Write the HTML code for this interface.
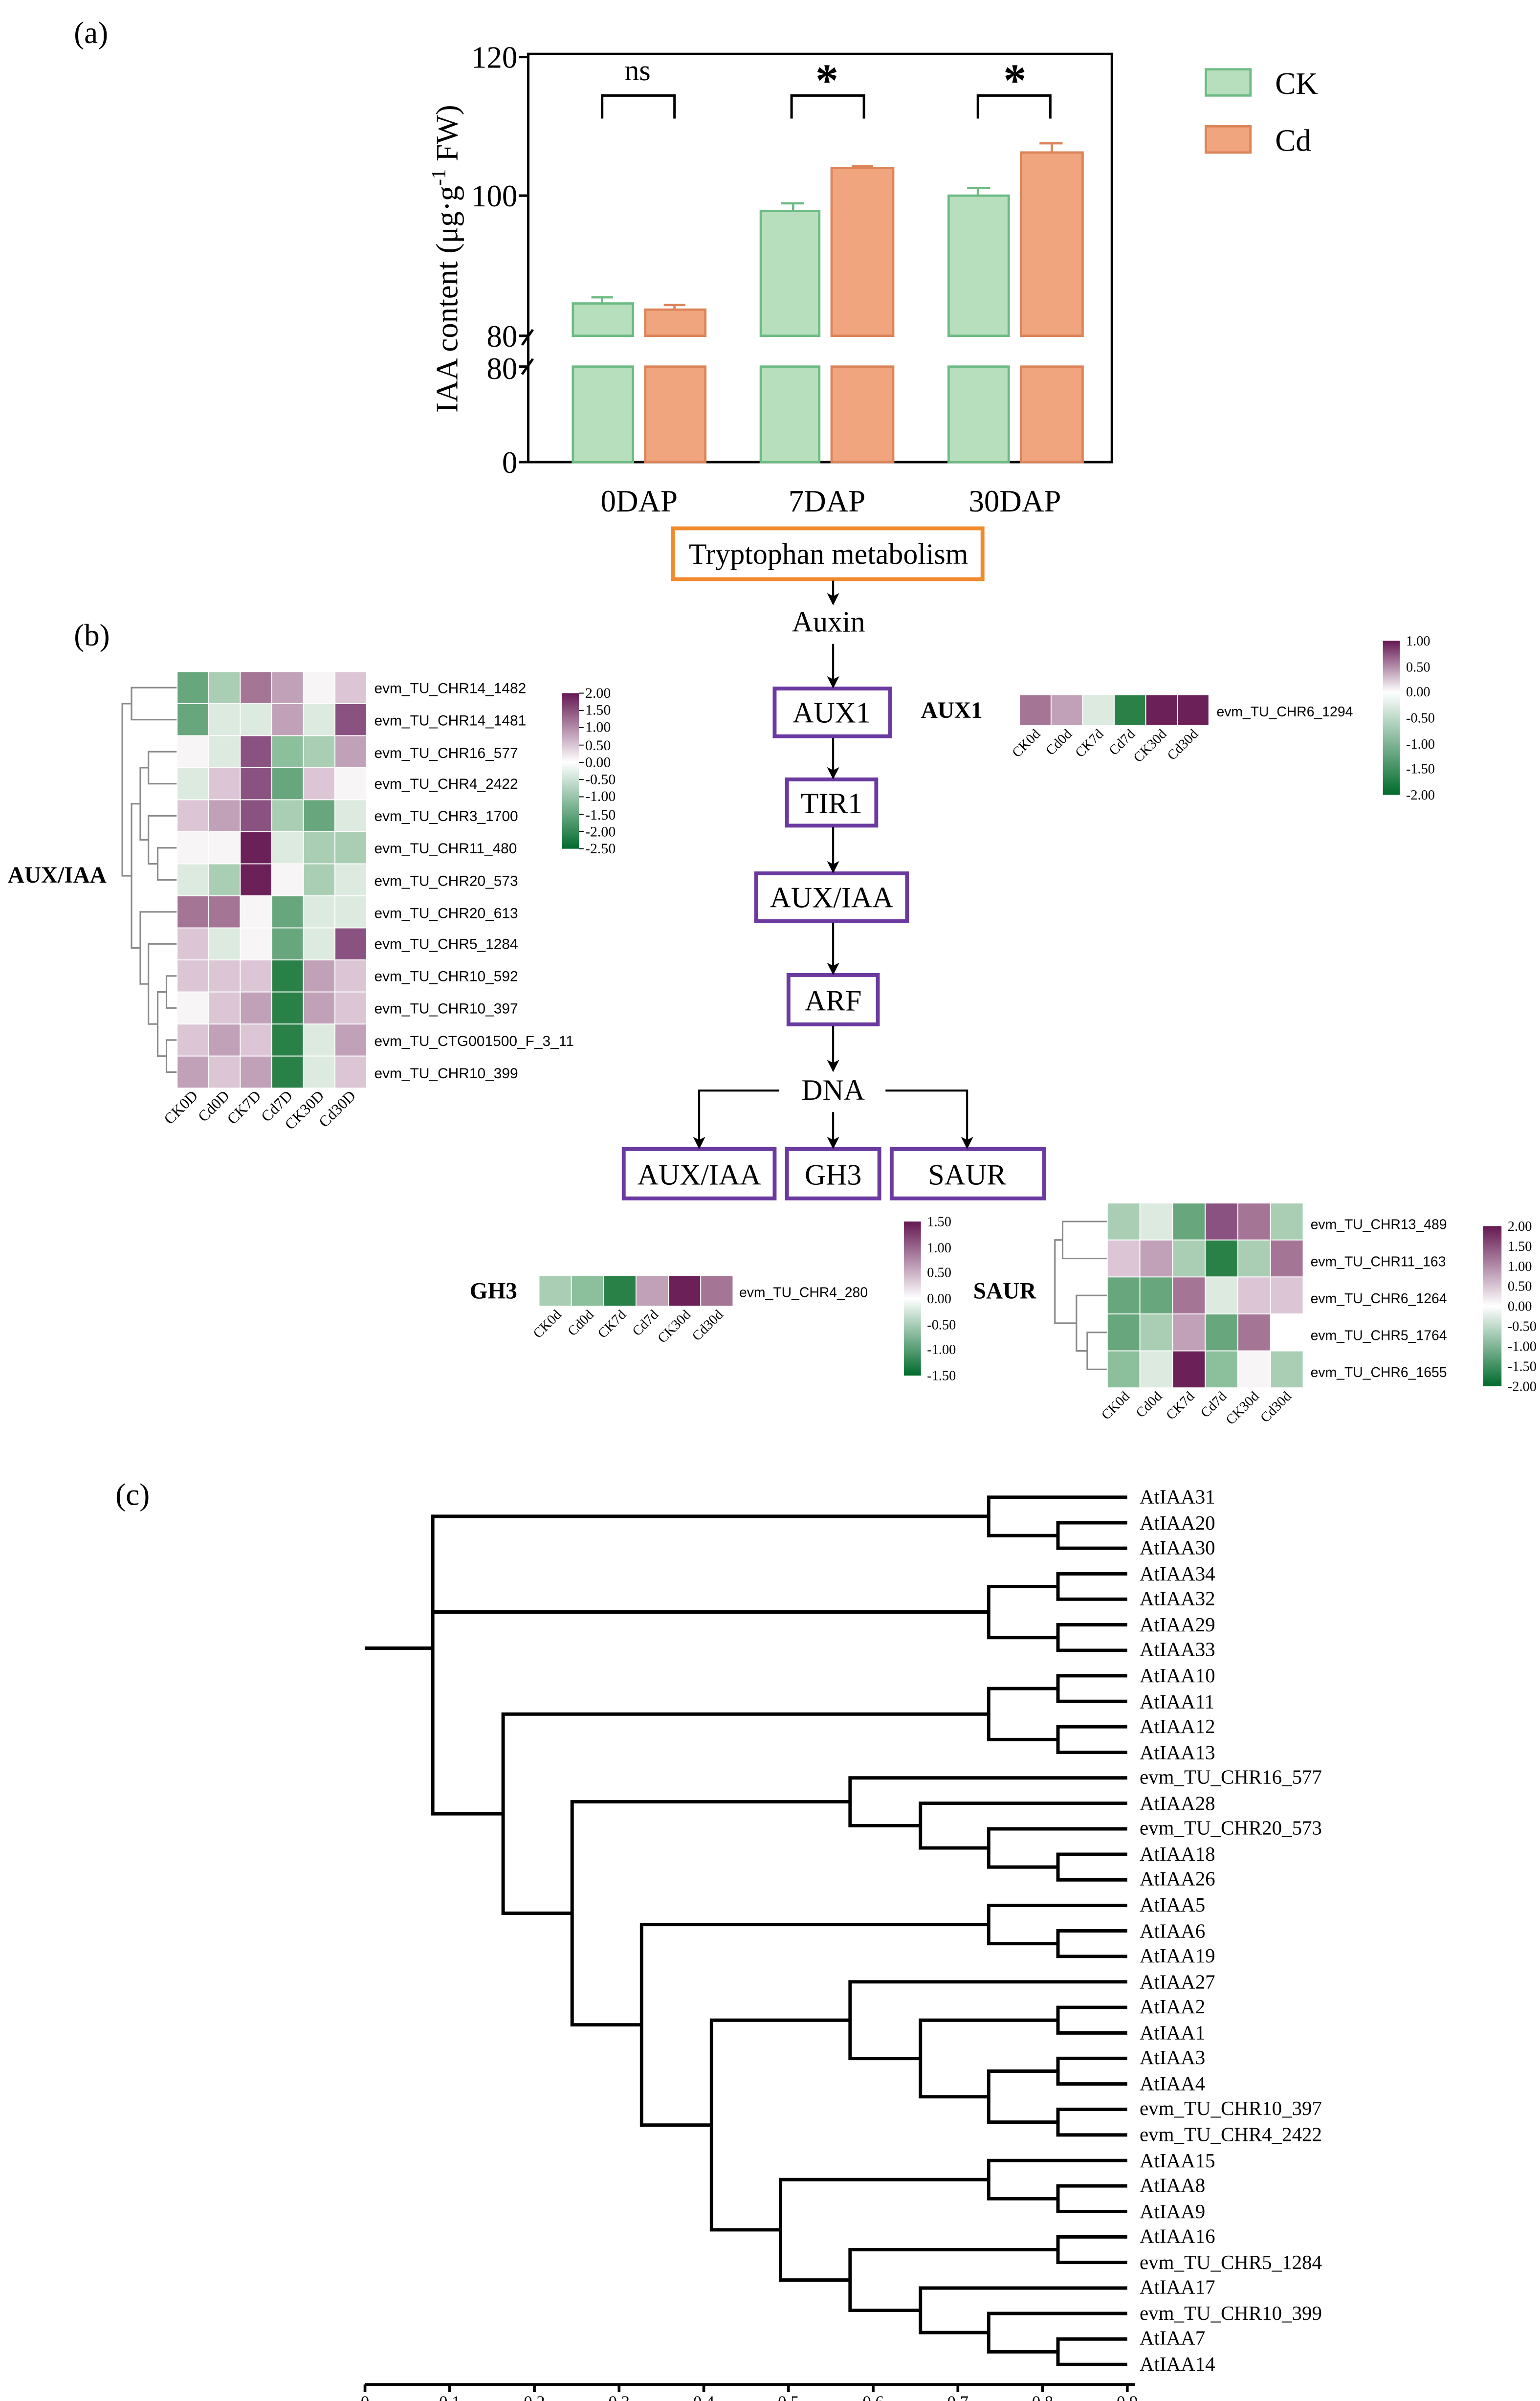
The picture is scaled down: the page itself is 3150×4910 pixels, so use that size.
<!DOCTYPE html>
<html><head><meta charset="utf-8"><style>
html,body{margin:0;padding:0;background:#fff}
svg{display:block}
.s{font-family:"Liberation Serif",serif}
.a{font-family:"Liberation Sans",sans-serif}
.W{fill:#f7f5f6}.G05{fill:#dceadf}.G1{fill:#a9ceb4}.G15{fill:#8cbf9c}.G2{fill:#68a77d}.G3{fill:#2a8148}
.P05{fill:#dcc6d6}.P1{fill:#c1a1b8}.P15{fill:#a57596}.P2{fill:#8a5280}.P3{fill:#6b2158}
.hm rect{stroke:#fff;stroke-width:0.6}
</style></head><body>
<svg width="3150" height="4910" viewBox="0 0 1000 1558.73" xmlns="http://www.w3.org/2000/svg">
<defs>
<linearGradient id="g1" x1="0" y1="0" x2="0" y2="1"><stop offset="0" stop-color="#651852"/><stop offset="0.444" stop-color="#ffffff"/><stop offset="1" stop-color="#006b2c"/></linearGradient>
<linearGradient id="g2" x1="0" y1="0" x2="0" y2="1"><stop offset="0" stop-color="#651852"/><stop offset="0.333" stop-color="#ffffff"/><stop offset="1" stop-color="#006b2c"/></linearGradient>
<linearGradient id="g3" x1="0" y1="0" x2="0" y2="1"><stop offset="0" stop-color="#651852"/><stop offset="0.5" stop-color="#ffffff"/><stop offset="1" stop-color="#006b2c"/></linearGradient>
<marker id="ar" markerWidth="8" markerHeight="8" refX="7" refY="4" orient="auto" markerUnits="userSpaceOnUse"><path d="M0,0 L8,4 L0,8 L2,4z" fill="#000"/></marker>
</defs>
<rect width="1000" height="1558.73" fill="#fff"/>

<!-- panel labels -->
<text x="48" y="28" class="s" font-size="20">(a)</text>
<text x="48" y="419" class="s" font-size="20">(b)</text>
<text x="75" y="977" class="s" font-size="20">(c)</text>

<!-- (a) bar chart -->
<g fill="none" stroke="#000" stroke-width="1.6">
<path d="M343,35 H722 V300 H343 Z"/>
<path d="M337,37 H343 M337,127 H343 M337,218 H343 M337,238 H343 M337,300 H343"/>
<path d="M339,224 L346,214 M339,243 L346,233"/>
</g>
<g class="s" font-size="20" text-anchor="end">
<text x="336" y="44">120</text><text x="336" y="134">100</text><text x="336" y="225">80</text><text x="336" y="246">80</text><text x="336" y="307">0</text>
</g>
<text class="s" font-size="20" text-anchor="middle" transform="translate(297,168) rotate(-90)">IAA content (μg·g<tspan dy="-8" font-size="13">-1</tspan><tspan dy="8"> FW)</tspan></text>
<g stroke-width="1.5">
<g fill="#b8dfbd" stroke="#6dbb84">
<rect x="372" y="197" width="39" height="21"/><rect x="494" y="137" width="38" height="81"/><rect x="616" y="127" width="39" height="91"/>
<rect x="372" y="238" width="39" height="62"/><rect x="494" y="238" width="38" height="62"/><rect x="616" y="238" width="39" height="62"/>
</g>
<g fill="#f0a57f" stroke="#dc8459">
<rect x="419" y="201" width="39" height="17"/><rect x="540" y="109" width="40" height="109"/><rect x="663" y="99" width="40" height="119"/>
<rect x="419" y="238" width="39" height="62"/><rect x="540" y="238" width="40" height="62"/><rect x="663" y="238" width="40" height="62"/>
</g>
<path d="M391,197 V193 M384,193 H398 M515,137 V132 M507,132 H522 M635,127 V122 M628,122 H643" stroke="#6dbb84" fill="none"/>
<path d="M438,201 V198 M431,198 H445 M560,109 V108 M553,108 H567 M683,99 V93 M675,93 H690" stroke="#dc8459" fill="none"/>
</g>
<path d="M391,77 V62 H438 V77 M514,77 V62 H561 V77 M635,77 V62 H682 V77" fill="none" stroke="#000" stroke-width="1.6"/>
<text x="414" y="52" class="s" font-size="19" text-anchor="middle">ns</text>
<text x="537" y="62" class="s" font-size="30" font-weight="bold" text-anchor="middle">*</text>
<text x="659" y="62" class="s" font-size="30" font-weight="bold" text-anchor="middle">*</text>
<g class="s" font-size="20" text-anchor="middle"><text x="415" y="332">0DAP</text><text x="537" y="332">7DAP</text><text x="659" y="332">30DAP</text></g>
<rect x="783" y="45" width="29" height="17" fill="#b8dfbd" stroke="#6dbb84" stroke-width="1.5"/>
<rect x="783" y="82" width="29" height="17" fill="#f0a57f" stroke="#dc8459" stroke-width="1.5"/>
<text x="828" y="61" class="s" font-size="20">CK</text><text x="828" y="98" class="s" font-size="20">Cd</text>

<!-- pathway -->
<g fill="none" stroke-width="2.5">
<rect x="437" y="343" width="201" height="33" stroke="#f08a2c"/>
<g stroke="#6b3aa0">
<rect x="503" y="447" width="75" height="31"/><rect x="511" y="506" width="58" height="30"/>
<rect x="491" y="567" width="98" height="31"/><rect x="512" y="633" width="58" height="32"/>
<rect x="405" y="746" width="98" height="32"/><rect x="511" y="746" width="60" height="32"/><rect x="579" y="746" width="99" height="32"/>
</g></g>
<g stroke="#000" stroke-width="1.3" fill="none" marker-end="url(#ar)">
<path d="M541,377 V392"/><path d="M541,418 V446"/><path d="M541,479 V505"/><path d="M541,537 V566"/><path d="M541,599 V632"/><path d="M541,666 V695"/><path d="M541,722 V745"/>
<path d="M506,708 H454 V745"/><path d="M575,708 H628 V745"/>
</g>
<g class="s" font-size="19" text-anchor="middle">
<text x="538" y="366">Tryptophan metabolism</text><text x="538" y="410">Auxin</text>
<text x="540" y="469">AUX1</text><text x="540" y="528">TIR1</text><text x="540" y="589">AUX/IAA</text><text x="541" y="656">ARF</text>
<text x="541" y="714">DNA</text><text x="454" y="769">AUX/IAA</text><text x="541" y="769">GH3</text><text x="628" y="769">SAUR</text>
</g>

<!-- AUX/IAA heatmap -->
<text x="5" y="573" class="s" font-size="15" font-weight="bold">AUX/IAA</text>
<g fill="none" stroke="#8a8a8a" stroke-width="1">
<path d="M115,446.4 H85.4 V467.2 H115"/>
<path d="M115,488 H96.4 V508.8 H115"/>
<path d="M115,550.4 H102.4 V571.2 H115"/>
<path d="M115,529.6 H96.4 V560.8 H102.4"/>
<path d="M96.4,498.4 H91.1 V545.2 H96.4"/>
<path d="M115,633.6 H108.1 V654.4 H115 M115,675.2 H108.1 V696 H115"/>
<path d="M108.1,644 H102.4 V685.6 H108.1"/>
<path d="M115,612.8 H96.4 V664.8 H102.4"/>
<path d="M115,592 H91.1 V638.8 H96.4"/>
<path d="M91.1,521.8 H85.4 V615.4 H91.1"/>
<path d="M85.4,456.8 H79.4 V568.6 H85.4"/>
</g>
<g class="hm">
<g transform="translate(0,436)"><rect x="115" width="20.5" height="20.8" class="G2"/><rect x="135.5" width="20.5" height="20.8" class="G1"/><rect x="156" width="20.5" height="20.8" class="P15"/><rect x="176.5" width="20.5" height="20.8" class="P1"/><rect x="197" width="20.5" height="20.8" class="W"/><rect x="217.5" width="20.5" height="20.8" class="P05"/></g>
<g transform="translate(0,456.8)"><rect x="115" width="20.5" height="20.8" class="G2"/><rect x="135.5" width="20.5" height="20.8" class="G05"/><rect x="156" width="20.5" height="20.8" class="G05"/><rect x="176.5" width="20.5" height="20.8" class="P1"/><rect x="197" width="20.5" height="20.8" class="G05"/><rect x="217.5" width="20.5" height="20.8" class="P2"/></g>
<g transform="translate(0,477.6)"><rect x="115" width="20.5" height="20.8" class="W"/><rect x="135.5" width="20.5" height="20.8" class="G05"/><rect x="156" width="20.5" height="20.8" class="P2"/><rect x="176.5" width="20.5" height="20.8" class="G15"/><rect x="197" width="20.5" height="20.8" class="G1"/><rect x="217.5" width="20.5" height="20.8" class="P1"/></g>
<g transform="translate(0,498.4)"><rect x="115" width="20.5" height="20.8" class="G05"/><rect x="135.5" width="20.5" height="20.8" class="P05"/><rect x="156" width="20.5" height="20.8" class="P2"/><rect x="176.5" width="20.5" height="20.8" class="G2"/><rect x="197" width="20.5" height="20.8" class="P05"/><rect x="217.5" width="20.5" height="20.8" class="W"/></g>
<g transform="translate(0,519.2)"><rect x="115" width="20.5" height="20.8" class="P05"/><rect x="135.5" width="20.5" height="20.8" class="P1"/><rect x="156" width="20.5" height="20.8" class="P2"/><rect x="176.5" width="20.5" height="20.8" class="G1"/><rect x="197" width="20.5" height="20.8" class="G2"/><rect x="217.5" width="20.5" height="20.8" class="G05"/></g>
<g transform="translate(0,540)"><rect x="115" width="20.5" height="20.8" class="W"/><rect x="135.5" width="20.5" height="20.8" class="W"/><rect x="156" width="20.5" height="20.8" class="P3"/><rect x="176.5" width="20.5" height="20.8" class="G05"/><rect x="197" width="20.5" height="20.8" class="G1"/><rect x="217.5" width="20.5" height="20.8" class="G1"/></g>
<g transform="translate(0,560.8)"><rect x="115" width="20.5" height="20.8" class="G05"/><rect x="135.5" width="20.5" height="20.8" class="G1"/><rect x="156" width="20.5" height="20.8" class="P3"/><rect x="176.5" width="20.5" height="20.8" class="W"/><rect x="197" width="20.5" height="20.8" class="G1"/><rect x="217.5" width="20.5" height="20.8" class="G05"/></g>
<g transform="translate(0,581.6)"><rect x="115" width="20.5" height="20.8" class="P15"/><rect x="135.5" width="20.5" height="20.8" class="P15"/><rect x="156" width="20.5" height="20.8" class="W"/><rect x="176.5" width="20.5" height="20.8" class="G2"/><rect x="197" width="20.5" height="20.8" class="G05"/><rect x="217.5" width="20.5" height="20.8" class="G05"/></g>
<g transform="translate(0,602.4)"><rect x="115" width="20.5" height="20.8" class="P05"/><rect x="135.5" width="20.5" height="20.8" class="G05"/><rect x="156" width="20.5" height="20.8" class="W"/><rect x="176.5" width="20.5" height="20.8" class="G2"/><rect x="197" width="20.5" height="20.8" class="G05"/><rect x="217.5" width="20.5" height="20.8" class="P2"/></g>
<g transform="translate(0,623.2)"><rect x="115" width="20.5" height="20.8" class="P05"/><rect x="135.5" width="20.5" height="20.8" class="P05"/><rect x="156" width="20.5" height="20.8" class="P05"/><rect x="176.5" width="20.5" height="20.8" class="G3"/><rect x="197" width="20.5" height="20.8" class="P1"/><rect x="217.5" width="20.5" height="20.8" class="P05"/></g>
<g transform="translate(0,644)"><rect x="115" width="20.5" height="20.8" class="W"/><rect x="135.5" width="20.5" height="20.8" class="P05"/><rect x="156" width="20.5" height="20.8" class="P1"/><rect x="176.5" width="20.5" height="20.8" class="G3"/><rect x="197" width="20.5" height="20.8" class="P1"/><rect x="217.5" width="20.5" height="20.8" class="P05"/></g>
<g transform="translate(0,664.8)"><rect x="115" width="20.5" height="20.8" class="P05"/><rect x="135.5" width="20.5" height="20.8" class="P1"/><rect x="156" width="20.5" height="20.8" class="P05"/><rect x="176.5" width="20.5" height="20.8" class="G3"/><rect x="197" width="20.5" height="20.8" class="G05"/><rect x="217.5" width="20.5" height="20.8" class="P1"/></g>
<g transform="translate(0,685.6)"><rect x="115" width="20.5" height="20.8" class="P1"/><rect x="135.5" width="20.5" height="20.8" class="P05"/><rect x="156" width="20.5" height="20.8" class="P1"/><rect x="176.5" width="20.5" height="20.8" class="G3"/><rect x="197" width="20.5" height="20.8" class="G05"/><rect x="217.5" width="20.5" height="20.8" class="P05"/></g>
</g>
<g class="a" font-size="9.5">
<text x="243" y="450">evm_TU_CHR14_1482</text><text x="243" y="471">evm_TU_CHR14_1481</text><text x="243" y="492">evm_TU_CHR16_577</text><text x="243" y="512">evm_TU_CHR4_2422</text><text x="243" y="533">evm_TU_CHR3_1700</text><text x="243" y="554">evm_TU_CHR11_480</text><text x="243" y="575">evm_TU_CHR20_573</text><text x="243" y="596">evm_TU_CHR20_613</text><text x="243" y="616">evm_TU_CHR5_1284</text><text x="243" y="637">evm_TU_CHR10_592</text><text x="243" y="658">evm_TU_CHR10_397</text><text x="243" y="679">evm_TU_CTG001500_F_3_11</text><text x="243" y="700">evm_TU_CHR10_399</text>
</g>
<g class="s" font-size="10" text-anchor="end">
<text transform="translate(129,712) rotate(-45)">CK0D</text><text transform="translate(149.5,712) rotate(-45)">Cd0D</text><text transform="translate(170,712) rotate(-45)">CK7D</text><text transform="translate(190.5,712) rotate(-45)">Cd7D</text><text transform="translate(211,712) rotate(-45)">CK30D</text><text transform="translate(231.5,712) rotate(-45)">Cd30D</text>
</g>
<rect x="365" y="450" width="11" height="101" fill="url(#g1)"/>
<g stroke="#000" stroke-width="0.6"><path d="M376,450 H379 M376,461.2 H379 M376,472.4 H379 M376,483.7 H379 M376,494.9 H379 M376,506.1 H379 M376,517.3 H379 M376,528.6 H379 M376,539.8 H379 M376,551 H379"/></g>
<g class="s" font-size="9.5">
<text x="380" y="453">2.00</text><text x="380" y="464">1.50</text><text x="380" y="475">1.00</text><text x="380" y="487">0.50</text><text x="380" y="498">0.00</text><text x="380" y="509">-0.50</text><text x="380" y="520">-1.00</text><text x="380" y="532">-1.50</text><text x="380" y="543">-2.00</text><text x="380" y="554">-2.50</text>
</g>

<!-- AUX1 heatmap -->
<text x="598" y="466" class="s" font-size="15" font-weight="bold">AUX1</text>
<g class="hm" transform="translate(0,451)">
<rect x="662" width="20.5" height="20" class="P15"/><rect x="682.5" width="20.5" height="20" class="P1"/><rect x="703" width="20.5" height="20" class="G05"/><rect x="723.5" width="20.5" height="20" class="G3"/><rect x="744" width="20.5" height="20" class="P3"/><rect x="764.5" width="20.5" height="20" class="P3"/>
</g>
<text x="790" y="465" class="a" font-size="9">evm_TU_CHR6_1294</text>
<g class="s" font-size="9" text-anchor="end">
<text transform="translate(676,477) rotate(-45)">CK0d</text><text transform="translate(696.5,477) rotate(-45)">Cd0d</text><text transform="translate(717,477) rotate(-45)">CK7d</text><text transform="translate(737.5,477) rotate(-45)">Cd7d</text><text transform="translate(758,477) rotate(-45)">CK30d</text><text transform="translate(778.5,477) rotate(-45)">Cd30d</text>
</g>
<rect x="898" y="416" width="11" height="100" fill="url(#g2)"/>
<g class="s" font-size="9">
<text x="913" y="419">1.00</text><text x="913" y="436">0.50</text><text x="913" y="452">0.00</text><text x="913" y="469">-0.50</text><text x="913" y="486">-1.00</text><text x="913" y="502">-1.50</text><text x="913" y="519">-2.00</text>
</g>

<!-- GH3 heatmap -->
<text x="305" y="843" class="s" font-size="15" font-weight="bold">GH3</text>
<g class="hm" transform="translate(0,828)">
<rect x="350" width="21" height="20" class="G1"/><rect x="371" width="21" height="20" class="G15"/><rect x="392" width="21" height="20" class="G3"/><rect x="413" width="21" height="20" class="P1"/><rect x="434" width="21" height="20" class="P3"/><rect x="455" width="21" height="20" class="P15"/>
</g>
<text x="480" y="842" class="a" font-size="9">evm_TU_CHR4_280</text>
<g class="s" font-size="9" text-anchor="end">
<text transform="translate(365,854) rotate(-45)">CK0d</text><text transform="translate(386,854) rotate(-45)">Cd0d</text><text transform="translate(407,854) rotate(-45)">CK7d</text><text transform="translate(428,854) rotate(-45)">Cd7d</text><text transform="translate(449,854) rotate(-45)">CK30d</text><text transform="translate(470,854) rotate(-45)">Cd30d</text>
</g>
<rect x="587" y="793" width="11" height="100" fill="url(#g3)"/>
<g class="s" font-size="9">
<text x="602" y="796">1.50</text><text x="602" y="813">1.00</text><text x="602" y="829">0.50</text><text x="602" y="846">0.00</text><text x="602" y="863">-0.50</text><text x="602" y="879">-1.00</text><text x="602" y="896">-1.50</text>
</g>

<!-- SAUR heatmap -->
<text x="632" y="843" class="s" font-size="15" font-weight="bold">SAUR</text>
<g fill="none" stroke="#8a8a8a" stroke-width="1">
<path d="M719,793 H690 V817 H719"/>
<path d="M719,865 H706 V889 H719"/>
<path d="M719,841 H699 V877 H706"/>
<path d="M690,805 H685 V859 H699"/>
</g>
<g class="hm">
<g transform="translate(0,781)"><rect x="719" width="21.2" height="24" class="G1"/><rect x="740.2" width="21.2" height="24" class="G05"/><rect x="761.4" width="21.2" height="24" class="G2"/><rect x="782.6" width="21.2" height="24" class="P2"/><rect x="803.8" width="21.2" height="24" class="P15"/><rect x="825" width="21.2" height="24" class="G1"/></g>
<g transform="translate(0,805)"><rect x="719" width="21.2" height="24" class="P05"/><rect x="740.2" width="21.2" height="24" class="P1"/><rect x="761.4" width="21.2" height="24" class="G1"/><rect x="782.6" width="21.2" height="24" class="G3"/><rect x="803.8" width="21.2" height="24" class="G1"/><rect x="825" width="21.2" height="24" class="P15"/></g>
<g transform="translate(0,829)"><rect x="719" width="21.2" height="24" class="G2"/><rect x="740.2" width="21.2" height="24" class="G2"/><rect x="761.4" width="21.2" height="24" class="P15"/><rect x="782.6" width="21.2" height="24" class="G05"/><rect x="803.8" width="21.2" height="24" class="P05"/><rect x="825" width="21.2" height="24" class="P05"/></g>
<g transform="translate(0,853)"><rect x="719" width="21.2" height="24" class="G2"/><rect x="740.2" width="21.2" height="24" class="G1"/><rect x="761.4" width="21.2" height="24" class="P1"/><rect x="782.6" width="21.2" height="24" class="G2"/><rect x="803.8" width="21.2" height="24" class="P15"/><rect x="825" width="21.2" height="24" fill="#fff"/></g>
<g transform="translate(0,877)"><rect x="719" width="21.2" height="24" class="G15"/><rect x="740.2" width="21.2" height="24" class="G05"/><rect x="761.4" width="21.2" height="24" class="P3"/><rect x="782.6" width="21.2" height="24" class="G15"/><rect x="803.8" width="21.2" height="24" class="W"/><rect x="825" width="21.2" height="24" class="G1"/></g>
</g>
<g class="a" font-size="9">
<text x="851" y="798">evm_TU_CHR13_489</text><text x="851" y="822">evm_TU_CHR11_163</text><text x="851" y="846">evm_TU_CHR6_1264</text><text x="851" y="870">evm_TU_CHR5_1764</text><text x="851" y="894">evm_TU_CHR6_1655</text>
</g>
<g class="s" font-size="9" text-anchor="end">
<text transform="translate(734,907) rotate(-45)">CK0d</text><text transform="translate(755,907) rotate(-45)">Cd0d</text><text transform="translate(776,907) rotate(-45)">CK7d</text><text transform="translate(797,907) rotate(-45)">Cd7d</text><text transform="translate(818,907) rotate(-45)">CK30d</text><text transform="translate(839,907) rotate(-45)">Cd30d</text>
</g>
<rect x="963" y="796" width="12" height="104" fill="url(#g3)"/>
<g class="s" font-size="9">
<text x="979" y="799">2.00</text><text x="979" y="812">1.50</text><text x="979" y="825">1.00</text><text x="979" y="838">0.50</text><text x="979" y="851">0.00</text><text x="979" y="864">-0.50</text><text x="979" y="877">-1.00</text><text x="979" y="890">-1.50</text><text x="979" y="903">-2.00</text>
</g>

<!-- (c) tree -->
<g fill="none" stroke="#000" stroke-width="2.2">
<path d="M237,1070 H281"/>
<path d="M642,984.4 H281 V1177.5 H326.7 M281,1046.5 H642"/>
<path d="M732,972 H642 V996.9 H687 M732,988.6 H687 V1005.1 H732"/>
<path d="M687,1030 H642 V1063.1 H687 M732,1021.7 H687 V1038.2 H732 M732,1054.8 H687 V1071.4 H732"/>
<path d="M642,1112.8 H326.7 V1242.1 H371.5"/>
<path d="M687,1096.2 H642 V1129.3 H687 M732,1087.9 H687 V1104.5 H732 M732,1121 H687 V1137.6 H732"/>
<path d="M552,1169.7 H371.5 V1314.5 H416.6"/>
<path d="M732,1154.2 H552 V1185.2 H597.7"/>
<path d="M732,1170.7 H597.7 V1199.7 H642"/>
<path d="M732,1187.3 H642 V1212.1 H687 M732,1203.8 H687 V1220.4 H732"/>
<path d="M642,1249.4 H416.6 V1379.6 H462"/>
<path d="M732,1237 H642 V1261.8 H687 M732,1253.5 H687 V1270.1 H732"/>
<path d="M552,1311.5 H462 V1447.6 H506.8"/>
<path d="M732,1286.6 H552 V1336.4 H597.7"/>
<path d="M687,1311.5 H597.7 V1361.2 H642"/>
<path d="M732,1303.2 H687 V1319.8 H732"/>
<path d="M687,1344.6 H642 V1377.7 H687 M732,1336.3 H687 V1352.9 H732 M732,1369.4 H687 V1386 H732"/>
<path d="M642,1415 H506.8 V1480.2 H552"/>
<path d="M732,1402.6 H642 V1427.4 H687 M732,1419.1 H687 V1435.7 H732"/>
<path d="M687,1460.5 H552 V1499.9 H597.7 M732,1452.2 H687 V1468.8 H732"/>
<path d="M732,1485.4 H597.7 V1514.3 H642"/>
<path d="M732,1501.9 H642 V1526.8 H687 M732,1518.5 H687 V1535 H732"/>
<path d="M237,1548 H737 M237,1548 V1553 M292,1548 V1553 M347,1548 V1553 M402,1548 V1553 M457,1548 V1553 M512,1548 V1553 M567,1548 V1553 M622,1548 V1553 M677,1548 V1553 M732,1548 V1553" stroke-width="1.8"/>
</g>
<g class="s" font-size="11" text-anchor="middle">
<text x="237" y="1563">0</text><text x="292" y="1563">0.1</text><text x="347" y="1563">0.2</text><text x="402" y="1563">0.3</text><text x="457" y="1563">0.4</text><text x="512" y="1563">0.5</text><text x="567" y="1563">0.6</text><text x="622" y="1563">0.7</text><text x="677" y="1563">0.8</text><text x="732" y="1563">0.9</text>
</g>
<g class="s" font-size="13">
<text x="740" y="976">AtIAA31</text><text x="740" y="993">AtIAA20</text><text x="740" y="1009">AtIAA30</text><text x="740" y="1026">AtIAA34</text><text x="740" y="1042">AtIAA32</text><text x="740" y="1059">AtIAA29</text><text x="740" y="1075">AtIAA33</text><text x="740" y="1092">AtIAA10</text><text x="740" y="1109">AtIAA11</text><text x="740" y="1125">AtIAA12</text><text x="740" y="1142">AtIAA13</text><text x="740" y="1158">evm_TU_CHR16_577</text><text x="740" y="1175">AtIAA28</text><text x="740" y="1191">evm_TU_CHR20_573</text><text x="740" y="1208">AtIAA18</text><text x="740" y="1224">AtIAA26</text><text x="740" y="1241">AtIAA5</text><text x="740" y="1258">AtIAA6</text><text x="740" y="1274">AtIAA19</text><text x="740" y="1291">AtIAA27</text><text x="740" y="1307">AtIAA2</text><text x="740" y="1324">AtIAA1</text><text x="740" y="1340">AtIAA3</text><text x="740" y="1357">AtIAA4</text><text x="740" y="1373">evm_TU_CHR10_397</text><text x="740" y="1390">evm_TU_CHR4_2422</text><text x="740" y="1407">AtIAA15</text><text x="740" y="1423">AtIAA8</text><text x="740" y="1440">AtIAA9</text><text x="740" y="1456">AtIAA16</text><text x="740" y="1473">evm_TU_CHR5_1284</text><text x="740" y="1489">AtIAA17</text><text x="740" y="1506">evm_TU_CHR10_399</text><text x="740" y="1522">AtIAA7</text><text x="740" y="1539">AtIAA14</text>
</g>
</svg>
</body></html>
